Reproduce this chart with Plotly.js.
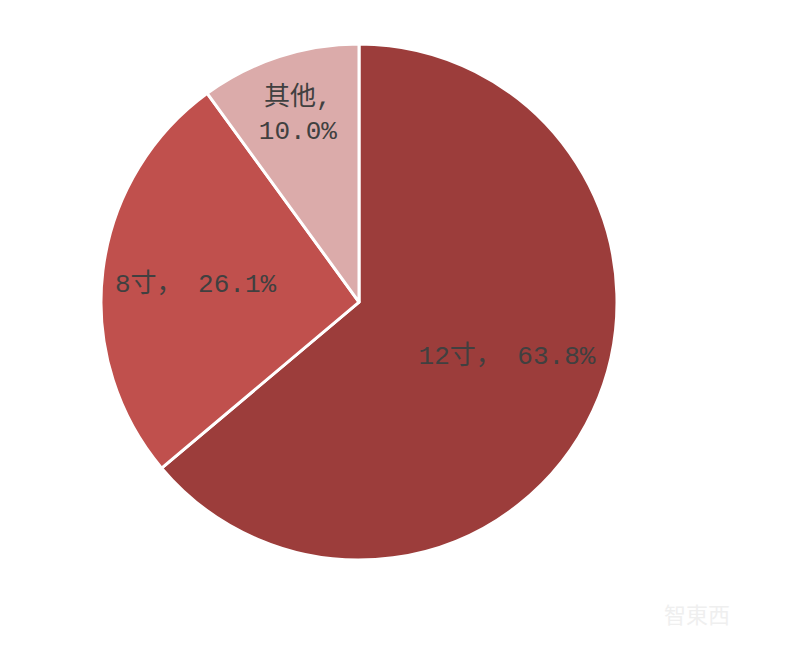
<!DOCTYPE html>
<html>
<head>
<meta charset="utf-8">
<script src="https://cdn.plot.ly/plotly-3.0.1.min.js"></script>
<style>html,body{margin:0;padding:0;background:#fff;}#chart{width:800px;height:657px;}</style>
</head>
<body>
<div id="chart"></div>
<script>
const categories = ["12寸", "8寸", "其他"];
const shares = [63.8, 26.1, 10.0];
const labelTexts = ["\u00a0\u00a0\u00a0\u00a012寸， 63.8%", "8寸， 26.1%\u00a0\u00a0", "其他,<br>10.0%"];
const colors = ["#9C3D3B", "#C0504D", "#DBABAA"];

const trace = {
  type: "pie",
  labels: categories,
  values: shares,
  text: labelTexts,
  textinfo: "text",
  textposition: "inside",
  insidetextorientation: "horizontal",
  sort: false,
  direction: "clockwise",
  rotation: 0,
  marker: {colors: colors, line: {color: "#ffffff", width: 3}},
  textfont: {family: "'Liberation Mono', 'Noto Sans CJK SC', monospace", size: 26, color: "#404040"},
  domain: {x: [0.12625, 0.77125], y: [0.1476, 0.933]},
  showlegend: false,
  hoverinfo: "none"
};

const layout = {
  width: 800, height: 657,
  margin: {l: 0, r: 0, t: 0, b: 0},
  paper_bgcolor: "#ffffff",
  plot_bgcolor: "#ffffff",
  showlegend: false,
  annotations: [{
    xref: "paper", yref: "paper", x: 0.915, y: 0.04,
    text: "智東西", showarrow: false,
    font: {family: "Noto Sans CJK SC", size: 22, color: "#efefef"}
  }]
};

Plotly.newPlot("chart", [trace], layout, {staticPlot: true, displayModeBar: false});
</script>
</body>
</html>
